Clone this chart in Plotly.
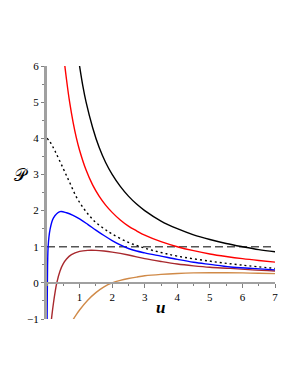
import plotly.graph_objects as go

# ---- data ----
black_u = [0.85, 0.9, 1.0, 1.1, 1.2, 1.4, 1.6, 1.8, 2.0, 2.25, 2.5, 2.75, 3.0, 3.5, 4.0, 4.5, 5.0, 5.5, 6.0, 6.5, 7.0]
black_v = [7.05, 6.6, 6.0, 5.45, 5.0, 4.3, 3.75, 3.33, 3.0, 2.67, 2.4, 2.18, 2.0, 1.71, 1.5, 1.33, 1.2, 1.09, 1.0, 0.92, 0.86]

red_u = [0.48, 0.5, 0.6, 0.7, 0.8, 0.9, 1.0, 1.2, 1.4, 1.6, 1.8, 2.0, 2.25, 2.5, 2.75, 3.0, 3.5, 4.0, 4.5, 5.0, 5.5, 6.0, 6.5, 7.0]
red_v = [6.7, 6.4, 5.62, 4.97, 4.45, 4.02, 3.67, 3.12, 2.71, 2.40, 2.15, 1.95, 1.74, 1.57, 1.44, 1.32, 1.14, 1.0, 0.89, 0.80, 0.73, 0.67, 0.62, 0.575]

dotted_u = [0.0, 0.1, 0.25, 0.5, 0.7, 0.9, 1.1, 1.3, 1.5, 1.75, 2.0, 2.5, 3.0, 3.5, 4.0, 5.0, 6.0, 7.0]
dotted_v = [4.0, 3.89, 3.64, 3.16, 2.77, 2.38, 2.09, 1.86, 1.67, 1.50, 1.35, 1.12, 0.96, 0.84, 0.74, 0.60, 0.49, 0.40]

blue_u = [0.003, 0.012, 0.035, 0.09, 0.2, 0.4, 0.6, 0.8, 1.0, 1.25, 1.5, 1.75, 2.0, 2.25, 2.5, 2.75, 3.0, 3.5, 4.0, 4.5, 5.0, 5.63, 6.3, 7.0]
blue_v = [-1.0, 0.0, 1.0, 1.46, 1.8, 1.97, 1.94, 1.87, 1.77, 1.62, 1.46, 1.31, 1.17, 1.05, 0.95, 0.88, 0.83, 0.74, 0.65, 0.57, 0.51, 0.44, 0.40, 0.36]

darkred_u = [0.12, 0.15, 0.2, 0.25, 0.3, 0.4, 0.5, 0.6, 0.75, 1.0, 1.25, 1.5, 1.75, 2.0, 2.5, 3.0, 3.5, 4.0, 4.5, 5.0, 5.63, 6.3, 7.0]
darkred_v = [-1.15, -0.9, -0.55, -0.25, 0.0, 0.33, 0.53, 0.66, 0.78, 0.87, 0.9, 0.9, 0.88, 0.85, 0.77, 0.67, 0.59, 0.52, 0.47, 0.43, 0.40, 0.36, 0.33]

orange_u = [0.75, 0.8, 0.9, 1.0, 1.25, 1.5, 1.75, 2.0, 2.25, 2.5, 2.75, 3.0, 3.5, 4.0, 4.5, 5.0, 5.5, 6.0, 6.5, 7.0]
orange_v = [-1.1, -1.02, -0.88, -0.75, -0.48, -0.27, -0.11, 0.0, 0.07, 0.12, 0.16, 0.195, 0.235, 0.26, 0.275, 0.28, 0.28, 0.275, 0.265, 0.255]

ref_u = [0.0, 7.0]
ref_v = [1.0, 1.0]

x_ticks = [1, 2, 3, 4, 5, 6, 7]
y_ticks = [-1, 0, 1, 2, 3, 4, 5, 6]

fig = go.Figure()

def add(u, v, color, dash=None, width=1.4):
    fig.add_trace(go.Scatter(x=u, y=v, mode="lines",
                             line=dict(color=color, width=width, dash=dash, shape="spline", smoothing=1.0),
                             showlegend=False, hoverinfo="skip"))

add(ref_u, ref_v, "#555555", dash="8px,4px", width=1.5)
add(orange_u, orange_v, "#d08a48")
add(darkred_u, darkred_v, "#a8282d")
add(dotted_u, dotted_v, "#000000", dash="2px,3px", width=1.4)
add(blue_u, blue_v, "#0000ff")
add(red_u, red_v, "#ff0000")
add(black_u, black_v, "#000000")

tick_font = dict(family="Liberation Serif, Times New Roman, serif", size=11, color="#000000")

fig.update_layout(
    width=290, height=377,
    margin=dict(l=39, r=23, t=58, b=66),
    paper_bgcolor="white", plot_bgcolor="white",
    xaxis=dict(range=[0, 7], anchor="free", position=1/7,
               tickvals=x_ticks, ticktext=[str(t) for t in x_ticks],
               showline=True, linecolor="#a0a0a0", linewidth=2,
               ticks="outside", ticklen=4, tickcolor="#808080", tickwidth=1,
               minor=dict(dtick=0.5, tick0=0, ticks="outside", ticklen=2, tickcolor="#808080"),
               showgrid=False, zeroline=False, tickfont=tick_font),
    yaxis=dict(range=[-1, 6],
               tickvals=y_ticks, ticktext=[("−1" if t == -1 else str(t)) for t in y_ticks],
               showline=True, linecolor="#a0a0a0", linewidth=3,
               ticks="outside", ticklen=3, tickcolor="#808080", tickwidth=1,
               minor=dict(dtick=0.5, tick0=0, ticks="outside", ticklen=2, tickcolor="#808080"),
               showgrid=False, zeroline=False, tickfont=tick_font),
    annotations=[
        dict(text="<b><i>u</i></b>", xref="paper", yref="paper", x=(160-47)/228, y=(319.3-308)/253,
             xanchor="center", yanchor="middle",
             showarrow=False, font=dict(family="Liberation Serif, serif", size=17, color="#000000")),
        dict(text="𝒫", xref="paper", yref="paper", x=(21-47)/228, y=(319.3-175)/253,
             xanchor="center", yanchor="middle",
             showarrow=False, font=dict(family="DejaVu Sans, Noto Sans, serif", size=17, color="#000000")),
    ],
)

fig.write_html("out.html")
